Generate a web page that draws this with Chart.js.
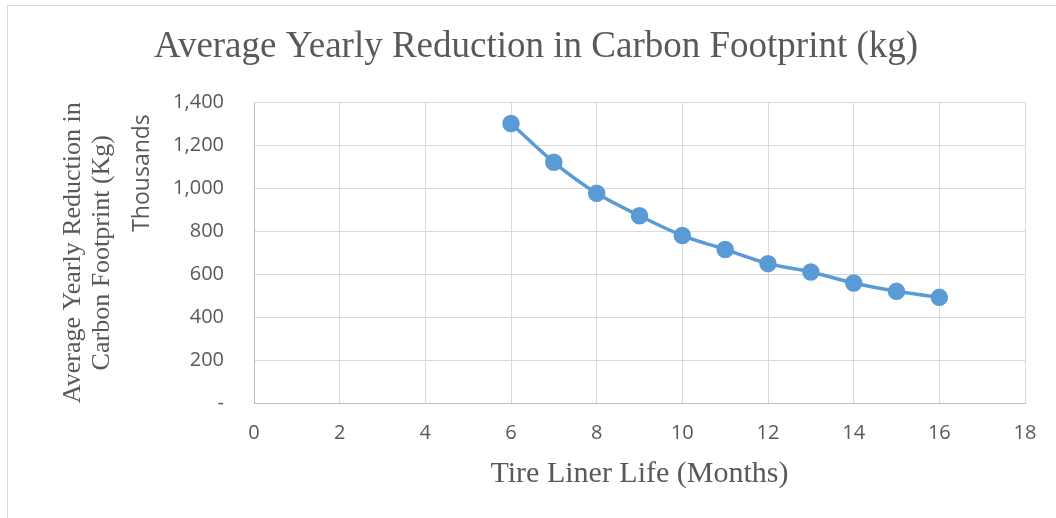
<!DOCTYPE html>
<html>
<head>
<meta charset="utf-8">
<script src="https://cdn.jsdelivr.net/npm/chart.js@4"></script>
<style>
body{margin:0;background:#fff;overflow:hidden}
#wrap{position:relative;width:1056px;height:518px}
#frame{position:absolute;left:7px;top:5px;width:1200px;height:700px;border:1px solid #d9d9d9}
canvas{position:absolute;left:0;top:0}
</style>
</head>
<body>
<div id="wrap">
<div id="frame"></div>
<canvas id="chart" width="1056" height="518"></canvas>
</div>
<script>

// tire liner life in months
let months=[6,7,8,9,10,11,12,13,14,15,16]

// yearly reduction, thousands of kg
let reduction=[1302,1121,977,872,780,715,649,610,559,520,492]

let xTicks=[0,2,4,6,8,10,12,14,16,18]
let yTicks=[0,200,400,600,800,1000,1200,1400]

let grey="#595959"

let points=months.map((m,i)=>({x:m,y:reduction[i]}))

// "Thousands" display unit label next to the y ticks
let unitLabel={
id:"unitLabel",
afterDraw(chart){
let ctx=chart.ctx
ctx.save()
ctx.translate(142,173)
ctx.rotate(-Math.PI/2)
ctx.font='23px "Open Sans"'
ctx.fillStyle=grey
ctx.textAlign="center"
ctx.textBaseline="middle"
ctx.fillText("Thousands",0,0)
ctx.restore()
}
}

new Chart(document.getElementById("chart"),{

type:"line",

data:{
datasets:[{
data:points,
borderColor:"#5b9bd5",
backgroundColor:"#5b9bd5",
borderWidth:3.5,
pointRadius:7,
pointHoverRadius:7,
tension:0.25
}]
},

options:{
responsive:false,
animation:false,
devicePixelRatio:1,
layout:{padding:{left:47,right:31,top:0,bottom:0}},
plugins:{
legend:{display:false},
tooltip:{enabled:false},
title:{
display:true,
text:"Average Yearly Reduction in Carbon Footprint (kg)",
color:grey,
font:{family:"Liberation Serif",size:37,weight:"normal"},
padding:{top:25,bottom:33}
}
},
scales:{
x:{
type:"linear",
min:0,
max:18,
afterBuildTicks:(scale)=>{scale.ticks=xTicks.map(v=>({value:v}))},
afterFit:(scale)=>{scale.height=115},
grid:{color:"#d9d9d9",drawTicks:false},
border:{color:"#bfbfbf"},
ticks:{color:grey,padding:18,font:{family:"Open Sans",size:20}},
title:{
display:true,
text:"Tire Liner Life (Months)",
color:grey,
font:{family:"Liberation Serif",size:30},
padding:{top:0,bottom:26}
}
},
y:{
min:0,
max:1400,
afterBuildTicks:(scale)=>{scale.ticks=yTicks.map(v=>({value:v}))},
afterFit:(scale)=>{scale.width=207},
grid:{color:"#d9d9d9",drawTicks:false},
border:{color:"#bfbfbf"},
ticks:{
color:grey,
padding:30,
font:{family:"Open Sans",size:20},
callback:(v)=>v==0?"-":v.toLocaleString("en-US")
},
title:{
display:true,
text:["Average Yearly Reduction in","Carbon Footprint (Kg)"],
color:grey,
font:{family:"Liberation Serif",size:26,lineHeight:"29px"},
padding:{top:12,bottom:0}
}
}
}
},

plugins:[unitLabel]

})

</script>
</body>
</html>
